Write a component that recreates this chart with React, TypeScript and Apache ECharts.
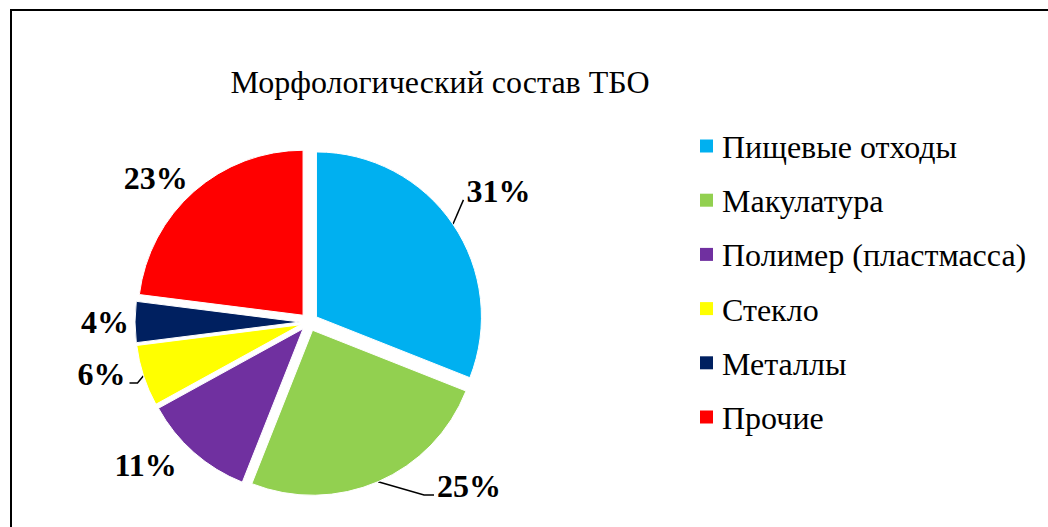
import React, { useEffect, useRef } from "react";
import * as echarts from "echarts";

const titleText = "Морфологический состав ТБО";
const categories = [
  "Пищевые отходы",
  "Макулатура",
  "Полимер (пластмасса)",
  "Стекло",
  "Металлы",
  "Прочие",
];
const values = [31, 25, 11, 6, 4, 23];
const colors = ["#00B0F0", "#92D050", "#7030A0", "#FFFF00", "#002060", "#FF0000"];
const showLine = [true, true, false, true, false, false];
// label nudges and leader-line elbow lengths (style only)
const labelShift = [
  [-14, -22],
  [40, -14],
  [7, -3],
  [12, -8],
  [25, 0],
  [18, 2],
];
const elbowLen = [0, 10, 0, 8, 0, 0];

const FAMILY = "'Liberation Serif', 'Times New Roman', 'DejaVu Serif', serif";
const LEGEND_X = 700;
const LEGEND_Y0 = 146;
const LEGEND_STEP = 54.2;

export default function App() {
  const ref = useRef<HTMLDivElement>(null);
  useEffect(() => {
    if (!ref.current) return;
    const chart = echarts.init(ref.current, undefined, { renderer: "svg" });

    const legendGraphics: any[] = [];
    categories.forEach((name, i) => {
      const cy = LEGEND_Y0 + LEGEND_STEP * i;
      legendGraphics.push({
        type: "rect",
        shape: { x: LEGEND_X, y: cy - 6.5, width: 13, height: 13 },
        style: { fill: colors[i] },
        silent: true,
      });
      legendGraphics.push({
        type: "text",
        x: LEGEND_X + 22,
        y: cy + 1,
        style: {
          text: name,
          font: `32px ${FAMILY}`,
          fill: "#000",
          align: "left",
          verticalAlign: "middle",
        },
        silent: true,
      });
    });

    chart.setOption({
      animation: false,
      backgroundColor: "#ffffff",
      textStyle: { fontFamily: FAMILY },
      graphic: [
        {
          type: "rect",
          shape: { x: 11, y: 10, width: 1100, height: 600 },
          style: { fill: "none", stroke: "#000", lineWidth: 2 },
          silent: true,
        },
        {
          type: "text",
          x: 440,
          y: 82,
          style: {
            text: titleText,
            font: `32px ${FAMILY}`,
            fill: "#000",
            align: "center",
            verticalAlign: "middle",
          },
          silent: true,
        },
        ...legendGraphics,
      ],
      series: [
        {
          type: "pie",
          center: [309, 322],
          radius: [0, 165],
          startAngle: 90,
          clockwise: true,
          selectedMode: "multiple",
          selectedOffset: 9,
          emphasis: { disabled: true },
          select: { itemStyle: { borderColor: "#fff", borderWidth: 1 } },
          itemStyle: { borderColor: "#fff", borderWidth: 1 },
          label: {
            show: true,
            position: "outside",
            formatter: (p: any) => `${p.value}%`,
            fontFamily: FAMILY,
            fontSize: 32,
            fontWeight: "bold",
            color: "#000",
          },
          labelLine: {
            length: 20,
            length2: 6,
            lineStyle: { color: "#000", width: 1.5 },
          },
          labelLayout: (p: any) => {
            const i = p.dataIndex;
            const dx = labelShift[i][0];
            const dy = labelShift[i][1];
            const out: any = { dx, dy };
            const pts = p.labelLinePoints;
            if (showLine[i] && pts && pts.length) {
              const r = p.labelRect;
              const left = r.x + dx;
              const right = r.x + r.width + dx;
              const base = r.y + dy + r.height * 0.78;
              const side = left + r.width / 2 > pts[0][0] ? 1 : -1;
              const nearX = side > 0 ? left - 3 : right + 4;
              const elbowX = nearX - side * elbowLen[i];
              out.labelLinePoints = [
                [pts[0][0], pts[0][1]],
                [elbowX, base],
                [nearX, base],
              ];
            }
            return out;
          },
          data: categories.map((name, i) => ({
            name,
            value: values[i],
            selected: true,
            itemStyle: { color: colors[i] },
            labelLine: { show: showLine[i] },
          })),
        },
      ],
    });
    return () => chart.dispose();
  }, []);
  return (
    <div
      ref={ref}
      style={{ position: "fixed", left: 0, top: 0, width: 1048, height: 527 }}
    />
  );
}
